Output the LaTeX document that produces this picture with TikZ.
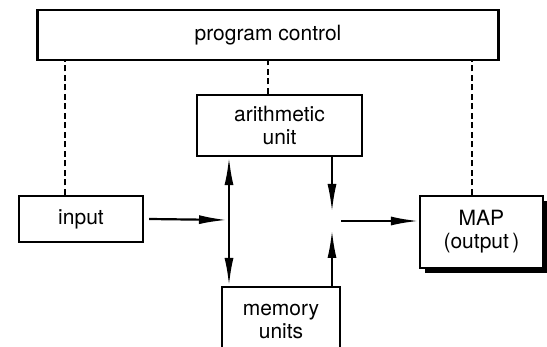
\documentclass[tikz,border=0pt]{standalone}
\usepackage{fontspec}
\setmainfont{TeX Gyre Heros}
\usetikzlibrary{arrows.meta,calc}
\begin{document}
\begin{tikzpicture}[x=1pt,y=-1pt,
  box/.style={draw,line width=2.4pt,rectangle,inner sep=0pt,align=center,fill=white,
    font=\fontsize{21}{23}\selectfont},
  ctl/.style={line width=1.4pt,dash pattern=on 6pt off 3.5pt},
  tip/.tip={Latex[length=28pt,width=9pt]},
  arr/.style={line width=2.2pt,-tip},
  darr/.style={line width=2.2pt,tip-tip}]
\useasboundingbox (0,0) rectangle (547,347);
\begin{scope}
\clip (0,0) rectangle (547,347);
\node[box,minimum width=461pt,minimum height=50pt] (pc) at (268,35) {program control};
\node[box,minimum width=165pt,minimum height=61pt] (ar) at (279.5,125.5) {arithmetic\\unit};
\node[box,minimum width=124pt,minimum height=46pt] (in) at (81,219) {input};
\node[box,minimum width=118pt,minimum height=68pt] (mem) at (281,321) {memory\\units};
\fill (425,201) rectangle (548,273);
\node[box,minimum width=123pt,minimum height=72pt] (map) at (481.5,232) {MAP\\(output\,)};
\coordinate (jl) at (229,220);
\coordinate (jd) at (332,212);
\coordinate (ju) at (332,230);
\coordinate (jo) at (341,221);
\draw[ctl] ([xshift=-16pt]in.north) -- ([xshift=-16pt]in.north |- pc.south);
\draw[ctl] ([xshift=-11.5pt]ar.north) -- ([xshift=-11.5pt]ar.north |- pc.south);
\draw[ctl] ([xshift=-9.5pt]map.north) -- ([xshift=-9.5pt]map.north |- pc.south);
\draw[darr] (jl |- ar.south) -- (jl |- mem.north);
\draw[arr] ([xshift=5pt]in.east) -- ([xshift=-2pt]jl);
\draw[arr] (jd |- ar.south) -- (jd);
\draw[arr] (ju |- mem.north) -- (ju);
\draw[arr] (jo) -- (map.west |- jo);
\end{scope}
\end{tikzpicture}
\end{document}
